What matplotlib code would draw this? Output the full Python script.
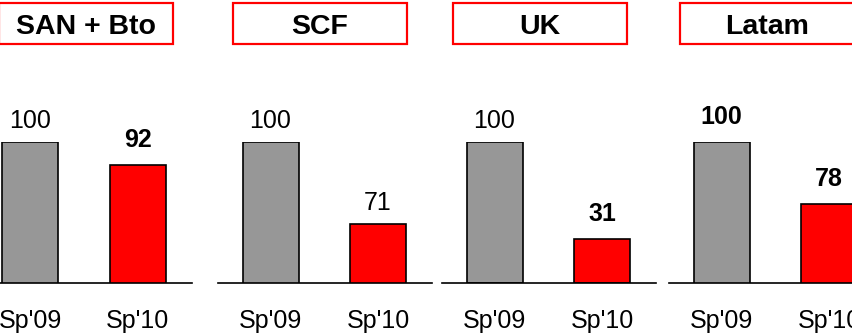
import matplotlib
matplotlib.use("Agg")
import matplotlib.pyplot as plt
from matplotlib.patches import Rectangle

plt.rcParams['font.family'] = ['Liberation Sans', 'DejaVu Sans']

W, H, DPI = 852, 333, 100

regions = ["SAN + Bto", "SCF", "UK", "Latam"]
periods = ["Sp'09", "Sp'10"]
values = [[100, 92], [100, 71], [100, 31], [100, 78]]
bold_labels = [[False, True], [False, False], [False, True], [True, True]]
y_floor = [50, 50, 0, 50]

GREY = "#979797"
RED = "#ff0000"

# panel layout in pixels (left edge of baseline, title box left edge)
axis_left = [-22.5, 218, 442, 669]
box_left = [-1, 233, 453, 680]
axis_width = 214
bar_step = 107.5
axis_bottom = 50
axis_height = 141


def pt(px):
    return px * 72.0 / DPI


fig = plt.figure(figsize=(W / DPI, H / DPI), dpi=DPI)

for i, name in enumerate(regions):
    ax = fig.add_axes([axis_left[i] / W, axis_bottom / H, axis_width / W, axis_height / H])
    x = [0, 1]
    ax.bar(x, values[i], width=56 / bar_step, color=[GREY, RED],
           edgecolor="black", linewidth=1.2, zorder=2)
    ax.set_xlim(-52.5 / bar_step, (axis_width - 52.5) / bar_step)
    ax.set_ylim(y_floor[i], 100)
    for s in ["top", "right", "left"]:
        ax.spines[s].set_visible(False)
    ax.spines["bottom"].set_linewidth(1.2)
    ax.spines["bottom"].set_zorder(3)
    ax.set_xticks([])
    ax.set_yticks([])
    ax.patch.set_alpha(0)

    for j in range(2):
        b = bold_labels[i][j]
        gap = 18 if b else 14
        ax.annotate(str(values[i][j]), xy=(x[j], values[i][j]), xytext=(0, pt(gap)),
                    textcoords="offset points", ha="center", va="baseline",
                    fontsize=18, fontweight="bold" if b else "normal",
                    annotation_clip=False)
        ax.annotate(periods[j], xy=(x[j], 0), xycoords=("data", "axes fraction"),
                    xytext=(0, -pt(45)), textcoords="offset points",
                    ha="center", va="baseline", fontsize=18, annotation_clip=False)

    # title box above each panel
    bx, by, bw, bh = box_left[i], H - 44, 174, 41
    fig.patches.append(Rectangle((bx / W, by / H), bw / W, bh / H,
                                 transform=fig.transFigure, facecolor="white",
                                 edgecolor=RED, linewidth=pt(2.2)))
    fig.text((bx + bw / 2) / W, (by + bh / 2) / H, name, ha="center", va="center_baseline",
             fontsize=20.5, fontweight="bold")

fig.savefig("out.png", dpi=DPI)
